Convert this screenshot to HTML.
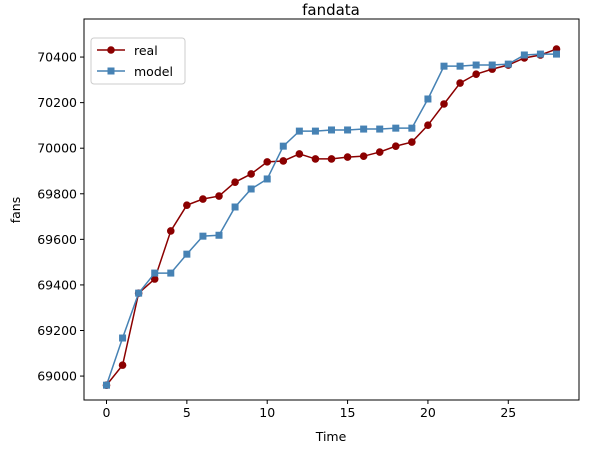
<!DOCTYPE html>
<html><head><meta charset="utf-8"><style>
body{margin:0;background:#fff}
svg{font-family:"DejaVu Sans","Liberation Sans",sans-serif}
</style></head><body>
<svg id="chart" width="589" height="455" xmlns="http://www.w3.org/2000/svg">
<rect width="589" height="455" fill="#fff"/>
<text x="331" y="15" text-anchor="middle" font-size="15">fandata</text>
<g id="grid"></g>
<g id="series"></g>
<rect x="84" y="19" width="495" height="381" fill="none" stroke="#000" stroke-width="1"/>
<text x="331" y="441" text-anchor="middle" font-size="12.5">Time</text>
<text x="20" y="210" text-anchor="middle" font-size="12.5" transform="rotate(-90 20 210)">fans</text>
<g>
<rect x="91" y="38" width="94" height="46" rx="3" fill="#fff" fill-opacity="0.8" stroke="#ccc"/>
<g>
<line x1="97" y1="50" x2="125" y2="50" stroke="#8b0000" stroke-width="1.5"/>
<circle cx="111" cy="50" r="3.8" fill="#8b0000"/>
<text x="134" y="55" font-size="12.5">real</text></g>
<g>
<line x1="97" y1="71" x2="125" y2="71" stroke="#4682b4" stroke-width="1.5"/>
<rect x="107.5" y="67.5" width="7" height="7" fill="#4682b4"/>
<text x="134" y="76" font-size="12.5">model</text></g>
</g>
</svg>
<script>
const times=[0,1,2,3,4,5,6,7,8,9,10,11,12,13,14,15,16,17,18,19,20,21,22,23,24,25,26,27,28];
const realValues=[68960,69048,69364,69426,69637,69750,69777,69790,69851,69887,69940,69944,69975,69953,69953,69961,69965,69983,70009,70027,70101,70194,70286,70325,70347,70365,70396,70409,70435];
const modelValues=[68960,69167,69364,69452,69452,69535,69614,69618,69742,69821,69865,70009,70075,70075,70080,70080,70084,70084,70088,70088,70216,70360,70360,70365,70365,70369,70409,70413,70413];
const xTicks=[0,5,10,15,20,25];
const yTicks=[69000,69200,69400,69600,69800,70000,70200,70400];
const NS="http://www.w3.org/2000/svg";
const L=84,R=579,T=19,B=400;
const xMin=-1.4,xMax=29.4,yMin=68895,yMax=70567;
const sx=v=>L+(v-xMin)/(xMax-xMin)*(R-L);
const sy=v=>B-(v-yMin)/(yMax-yMin)*(B-T);
function mk(tag,attrs,parent){const e=document.createElementNS(NS,tag);for(const k in attrs)e.setAttribute(k,attrs[k]);parent.appendChild(e);return e;}
const g=document.getElementById('grid');
xTicks.forEach(t=>{const x=sx(t);
 const l=mk('line',{x1:x,x2:x,y1:B,y2:B+4,stroke:'#000'},g);
 
 
 const tx=mk('text',{x:x,y:B+17,'text-anchor':'middle','font-size':12.5},g);tx.textContent=t;
 
 });
yTicks.forEach(t=>{const y=sy(t);
 const l=mk('line',{x1:L-4,x2:L,y1:y,y2:y,stroke:'#000'},g);
 
 
 const tx=mk('text',{x:L-7,y:y+4.5,'text-anchor':'end','font-size':12.5},g);tx.textContent=t;
 
 });
const s=document.getElementById('series');
function draw(vals,color,marker,name){
 const pts=vals.map((v,i)=>sx(times[i])+','+sy(v)).join(' ');
 const pl=mk('polyline',{points:pts,fill:'none',stroke:color,'stroke-width':1.5},s);
 
 
 vals.forEach((v,i)=>{let m;
  if(marker==='o')m=mk('circle',{cx:sx(times[i]),cy:sy(v),r:3.8,fill:color},s);
  else m=mk('rect',{x:sx(times[i])-3.5,y:sy(v)-3.5,width:7,height:7,fill:color},s);
  
  });
}
draw(realValues,'#8b0000','o','real');
draw(modelValues,'#4682b4','s','model');
</script>
</body></html>
